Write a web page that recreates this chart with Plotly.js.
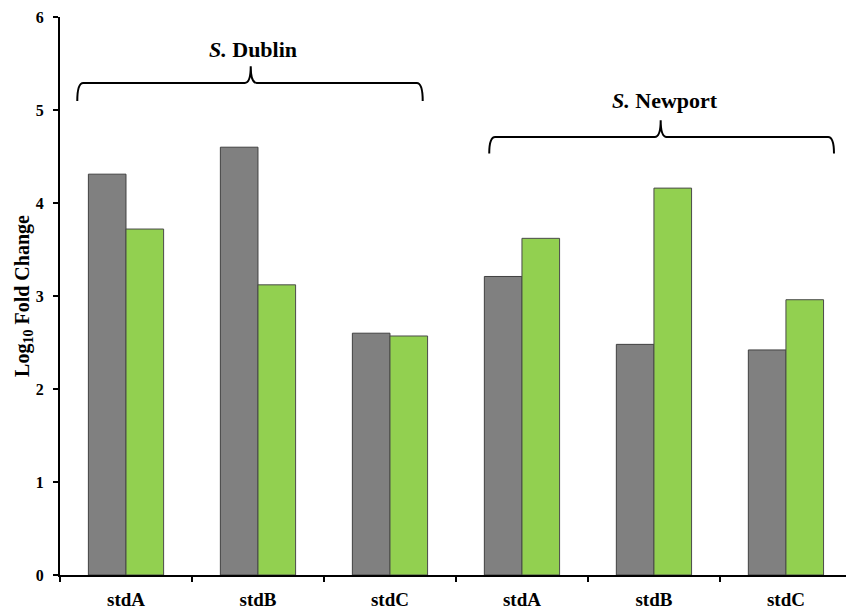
<!DOCTYPE html>
<html>
<head>
<meta charset="utf-8">
<script src="https://cdn.plot.ly/plotly-3.0.1.min.js"></script>
<style>html,body{margin:0;padding:0;background:#fff;}#chart{width:846px;height:606px;}</style>
</head>
<body>
<div id="chart"></div>
<script>
// Data
var categories = ["D-stdA", "D-stdB", "D-stdC", "N-stdA", "N-stdB", "N-stdC"];
var tickLabels = ["stdA", "stdB", "stdC", "stdA", "stdB", "stdC"];
var seriesGray = [4.31, 4.60, 2.60, 3.21, 2.48, 2.42];
var seriesGreen = [3.72, 3.12, 2.57, 3.62, 4.16, 2.96];
var groupLabels = ["<i>S.</i> Dublin", "<i>S.</i> Newport"];

var FONT = "Liberation Serif, Times New Roman, serif";
var xr = [-0.5, 5.455];
function xp(d) { return (d - xr[0]) / (xr[1] - xr[0]); }

function brace(L, M, R, yb, yh, yt) {
  var dx = 0.045;
  var a = xp(L), m = xp(M), r = xp(R), d = xp(L + dx) - a;
  return "M" + a + "," + yb +
    " Q" + a + "," + yh + " " + (a + d) + "," + yh +
    " L" + (m - d) + "," + yh +
    " Q" + m + "," + yh + " " + m + "," + yt +
    " Q" + m + "," + yh + " " + (m + d) + "," + yh +
    " L" + (r - d) + "," + yh +
    " Q" + r + "," + yh + " " + r + "," + yb;
}

var traces = [
  {type: "bar", x: categories, y: seriesGray, name: "gray",
   marker: {color: "#808080", line: {color: "#404040", width: 1}}},
  {type: "bar", x: categories, y: seriesGreen, name: "green",
   marker: {color: "#92D050", line: {color: "#4a4a4a", width: 1}}}
];

var layout = {
  width: 846, height: 606,
  margin: {l: 60, r: 0, t: 17, b: 31},
  paper_bgcolor: "#fff", plot_bgcolor: "#fff",
  showlegend: false,
  barmode: "group", bargap: 0.43, bargroupgap: 0,
  font: {family: FONT, color: "#000"},
  xaxis: {
    type: "category", range: xr,
    tickmode: "array", tickvals: categories, ticktext: tickLabels,
    tickson: "boundaries",
    ticks: "outside", ticklen: 5, tickwidth: 2, tickcolor: "#000",
    showline: true, linecolor: "#000", linewidth: 2,
    showgrid: false, zeroline: false,
    tickfont: {family: FONT, size: 19, color: "#000", weight: "bold"},
    ticklabelstandoff: 6
  },
  yaxis: {
    range: [0, 6], dtick: 1, tick0: 0,
    ticks: "outside", ticklen: 5, tickwidth: 2, tickcolor: "#000",
    showline: true, linecolor: "#000", linewidth: 2,
    showgrid: false, zeroline: false,
    tickfont: {family: FONT, size: 16, color: "#000", weight: "bold"},
    ticklabelstandoff: 6,
    title: {text: "<b>Log<sub>10</sub> Fold Change</b>", font: {family: FONT, size: 20, color: "#000"}, standoff: 0}
  },
  shapes: [
    {type: "path", xref: "paper", yref: "y", path: brace(-0.369, 0.945, 2.248, 5.098, 5.291, 5.470),
     line: {color: "#000", width: 2}},
    {type: "path", xref: "paper", yref: "y", path: brace(2.752, 4.051, 5.364, 4.533, 4.711, 4.890),
     line: {color: "#000", width: 2}}
  ],
  annotations: [
    {xref: "paper", yref: "y", x: xp(0.96), y: 5.653, text: "<b>" + groupLabels[0] + "</b>", showarrow: false,
     font: {family: FONT, size: 22, color: "#000"}, xanchor: "center", yanchor: "middle"},
    {xref: "paper", yref: "y", x: xp(4.08), y: 5.105, text: "<b>" + groupLabels[1] + "</b>", showarrow: false,
     font: {family: FONT, size: 22, color: "#000"}, xanchor: "center", yanchor: "middle"}
  ]
};

Plotly.newPlot("chart", traces, layout, {displayModeBar: false, staticPlot: true});
</script>
</body>
</html>
